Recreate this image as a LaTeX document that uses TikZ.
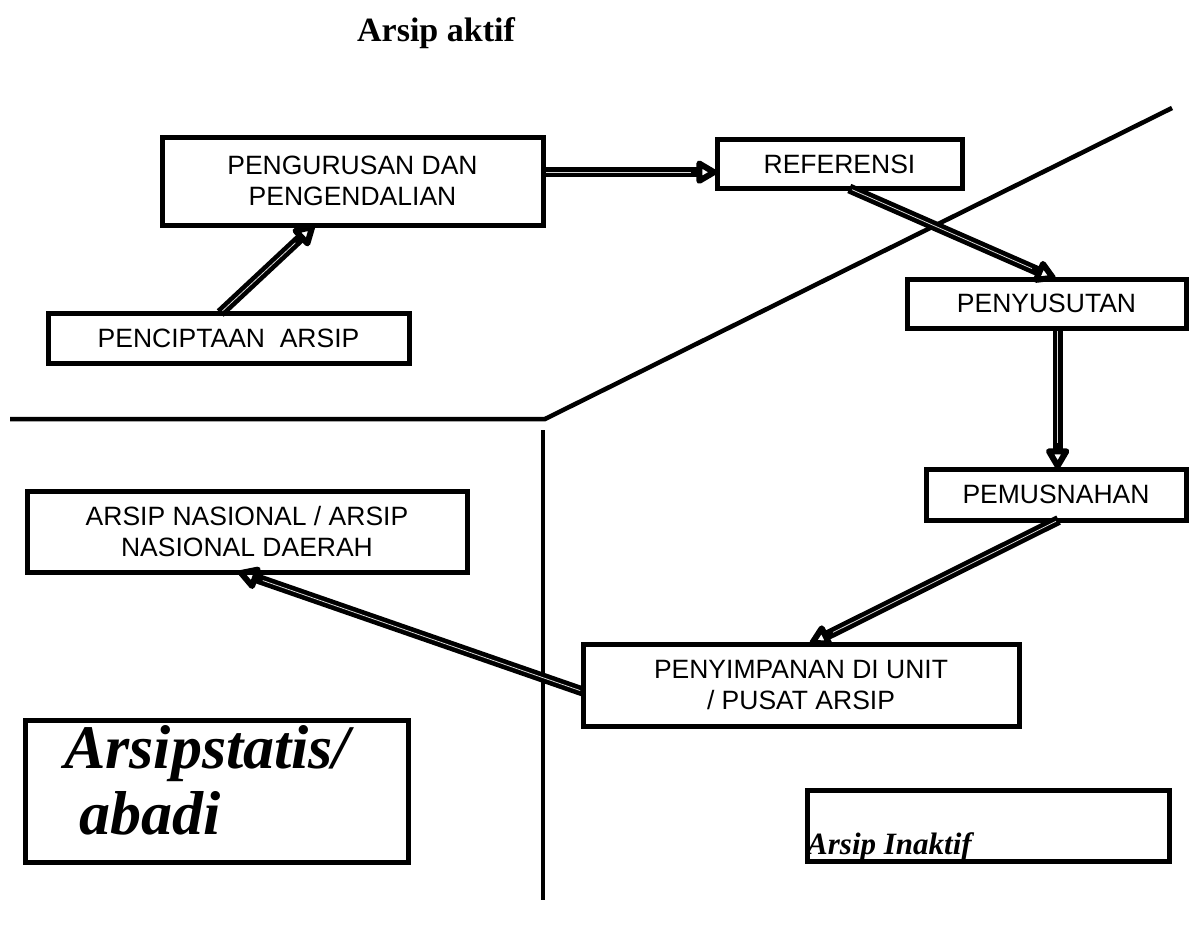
\documentclass[tikz,border=0pt]{standalone}
\usepackage{fontspec}
\setmainfont{Liberation Serif}
\newfontfamily\arialf{Liberation Sans}
\usetikzlibrary{arrows.meta,calc}
\begin{document}
\begin{tikzpicture}[x=1pt,y=-1pt,
  box/.style={draw, line width=5pt, outer sep=0pt, inner sep=0pt, align=center,
    font=\arialf\fontsize{26.5}{31.5}\selectfont},
  divider/.style={line width=4.5pt},
  bigarrow/.style={line width=10pt,
    -{Triangle[open,length=24pt,width=26pt,line width=6pt,round]},
    postaction={draw=gray!30,line width=0.8pt,-,shorten >=26pt,shorten <=3pt}},
  serifbig/.style={anchor=base west, inner sep=0pt,
    font=\bfseries\itshape\fontsize{62}{70}\selectfont}]
\useasboundingbox (0,0) rectangle (1192,926);

% dividers
\coordinate (h1) at (10,419);
\coordinate (h2) at (545,419);
\coordinate (d2) at (1172,108);
\coordinate (v1) at (543,430);
\coordinate (v2) at (543,900);
\draw[divider] (h1) -- (h2) -- (d2);
\draw[divider] (v1) -- (v2);

% title
\node[anchor=base, inner sep=0pt, font=\bfseries\fontsize{34}{38}\selectfont] (title) at (436,41) {Arsip aktif};

% boxes
\node[box, minimum width=381pt, minimum height=88pt] (pg) at (352.5,181) {PENGURUSAN DAN\\PENGENDALIAN};
\node[box, minimum width=245pt, minimum height=49pt] (ref) at (839.5,164) {REFERENSI};
\node[box, minimum width=279pt, minimum height=49pt] (py) at (1046.5,303.5) {PENYUSUTAN};
\node[box, minimum width=361pt, minimum height=50pt] (pc) at (228.5,338) {PENCIPTAAN\ \ ARSIP};
\node[box, minimum width=260pt, minimum height=51pt] (pm) at (1056,494.5) {PEMUSNAHAN};
\node[box, minimum width=440pt, minimum height=81pt] (an) at (247,531.5) {ARSIP NASIONAL / ARSIP\\NASIONAL DAERAH};
\node[box, minimum width=436pt, minimum height=82pt] (ps) at (801,685) {PENYIMPANAN DI UNIT\\/ PUSAT ARSIP};
\node[box, minimum width=383pt, minimum height=142pt] (st) at (216.5,791) {};
\node[serifbig] (st1) at (64,768) {Arsipstatis/};
\node[serifbig] (st2) at (79,834) {abadi};
\node[box, minimum width=362pt, minimum height=71pt] (ina) at (988,825.5) {};
\node[anchor=base west, inner sep=0pt, font=\bfseries\itshape\fontsize{31}{36}\selectfont] (inat) at (807,854) {Arsip Inaktif};

% arrows
\coordinate (a1s) at ($(pc.north west)!0.477!(pc.north east)$);
\coordinate (a1e) at ($(pg.south west)!0.40!(pg.south east)$);
\draw[bigarrow] (a1s) -- (a1e);

\coordinate (a2s) at ($(pg.north east)!0.4!(pg.south east)$);
\draw[bigarrow] (a2s) -- (a2s -| ref.west);

\coordinate (a3s) at ($(ref.south west)!0.54!(ref.south east)$);
\coordinate (a3e) at ($(py.north west)!0.533!(py.north east)$);
\draw[bigarrow] (a3s) -- (a3e);

\coordinate (a4s) at ($(py.south west)!0.54!(py.south east)$);
\draw[bigarrow] (a4s) -- (a4s |- pm.north);

\coordinate (a5s) at ($(pm.south west)!0.51!(pm.south east)$);
\coordinate (a5e) at ($(ps.north west)!0.52!(ps.north east)$);
\draw[bigarrow] (a5s) -- (a5e);

\coordinate (a6s) at ($(ps.north west)!0.58!(ps.south west)$);
\coordinate (a6e) at ($(an.south west)!0.48!(an.south east)$);
\draw[bigarrow] (a6s) -- (a6e);
\end{tikzpicture}
\end{document}
